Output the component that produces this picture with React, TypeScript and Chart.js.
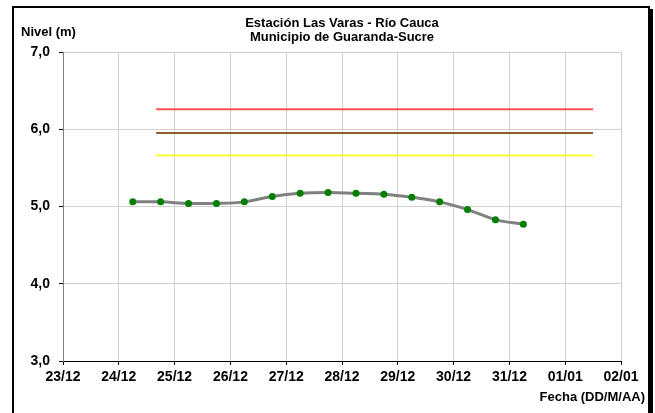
import React, { useEffect, useRef } from "react";
import { Chart, registerables } from "chart.js";

Chart.register(...registerables);

// X axis: days counted from 23/12
const dayTickLabels = ["23/12", "24/12", "25/12", "26/12", "27/12", "28/12", "29/12", "30/12", "31/12", "01/01", "02/01"];
const yTickLabels = ["3,0", "4,0", "5,0", "6,0", "7,0"];

// Observed samples (06:00 and 18:00 each day)
const sampleDays = [1.25, 1.75, 2.25, 2.75, 3.25, 3.75, 4.25, 4.75, 5.25, 5.75, 6.25, 6.75, 7.25, 7.75, 8.25];
const levels = [5.06, 5.06, 5.04, 5.04, 5.06, 5.13, 5.17, 5.18, 5.17, 5.16, 5.12, 5.06, 4.96, 4.83, 4.77];

// Alert thresholds
const thresholdSpan = [1.67, 9.5];
const redLevel = 6.26;
const brownLevel = 5.95;
const yellowLevel = 5.66;

const titleLines = ["Estación Las Varas - Río Cauca", "Municipio de Guaranda-Sucre"];
const yTitle = "Nivel (m)";
const xTitle = "Fecha (DD/M/AA)";

const FONT = "'Liberation Sans', Arial, sans-serif";

const textPlugin = {
  id: "extraText",
  afterDraw(chart: any) {
    const ctx = chart.ctx;
    const ca = chart.chartArea;
    ctx.save();
    ctx.fillStyle = "#000";
    ctx.textBaseline = "middle";
    ctx.font = `bold 13px ${FONT}`;
    ctx.textAlign = "center";
    const cx = (ca.left + ca.right) / 2;
    ctx.fillText(titleLines[0], cx, 23);
    ctx.fillText(titleLines[1], cx, 37);
    ctx.textAlign = "left";
    ctx.fillText(yTitle, 21, 32);
    ctx.textAlign = "right";
    ctx.fillText(xTitle, 645, 397);
    ctx.restore();
  },
};

function hLine(level: number) {
  return thresholdSpan.map((x) => ({ x, y: level }));
}

export default function App() {
  const ref = useRef<HTMLCanvasElement>(null);
  useEffect(() => {
    if (!ref.current) return;
    const chart = new Chart(ref.current, {
      type: "line",
      data: {
        datasets: [
          {
            data: sampleDays.map((x, i) => ({ x, y: levels[i] })),
            borderColor: "#808080",
            borderWidth: 3,
            tension: 0.4,
            pointRadius: 3.5,
            pointBackgroundColor: "#008000",
            pointBorderWidth: 0,
            order: 0,
          },
          {
            data: hLine(redLevel),
            borderColor: "#ff5050",
            borderWidth: 2,
            pointRadius: 0,
            order: 1,
          },
          {
            data: hLine(brownLevel),
            borderColor: "#8f5e2c",
            borderWidth: 2,
            pointRadius: 0,
            order: 2,
          },
          {
            data: hLine(yellowLevel),
            borderColor: "#ffff33",
            borderWidth: 2,
            pointRadius: 0,
            order: 3,
          },
        ],
      },
      options: {
        animation: false,
        responsive: false,
        layout: { padding: { left: 0, right: 34, top: 52, bottom: 0 } },
        plugins: {
          legend: { display: false },
          title: { display: false },
          tooltip: { enabled: false },
        },
        scales: {
          x: {
            type: "linear",
            min: 0,
            max: 10,
            afterFit: (s: any) => {
              s.height = 52;
            },
            ticks: {
              stepSize: 1,
              autoSkip: false,
              maxRotation: 0,
              padding: 4,
              color: "#000",
              font: { family: FONT, size: 14, weight: "bold" },
              callback: (v: any) => dayTickLabels[Math.round(Number(v))] ?? "",
            },
            grid: { color: "#d0d0d0", tickColor: "#000", tickLength: 4, lineWidth: 1 },
            border: { color: "#000", width: 1 },
          },
          y: {
            type: "linear",
            min: 3,
            max: 7,
            afterFit: (s: any) => {
              s.width = 63;
            },
            ticks: {
              stepSize: 1,
              padding: 9,
              color: "#000",
              font: { family: FONT, size: 14, weight: "bold" },
              callback: (v: any) => yTickLabels[Math.round(Number(v)) - 3] ?? "",
            },
            grid: { color: "#d0d0d0", tickColor: "#000", tickLength: 4, lineWidth: 1 },
            border: { color: "#808080", width: 1 },
          },
        },
      },
      plugins: [textPlugin],
    } as any);
    return () => chart.destroy();
  }, []);

  return (
    <div>
      <div
        style={{
          position: "absolute",
          left: 12,
          top: 6,
          width: 634,
          height: 420,
          border: "2px solid #000",
          boxShadow: "3px 3px 0 #000",
          background: "#fff",
        }}
      />
      <canvas
        ref={ref}
        width={655}
        height={413}
        style={{ position: "absolute", left: 0, top: 0, width: 655, height: 413 }}
      />
    </div>
  );
}
